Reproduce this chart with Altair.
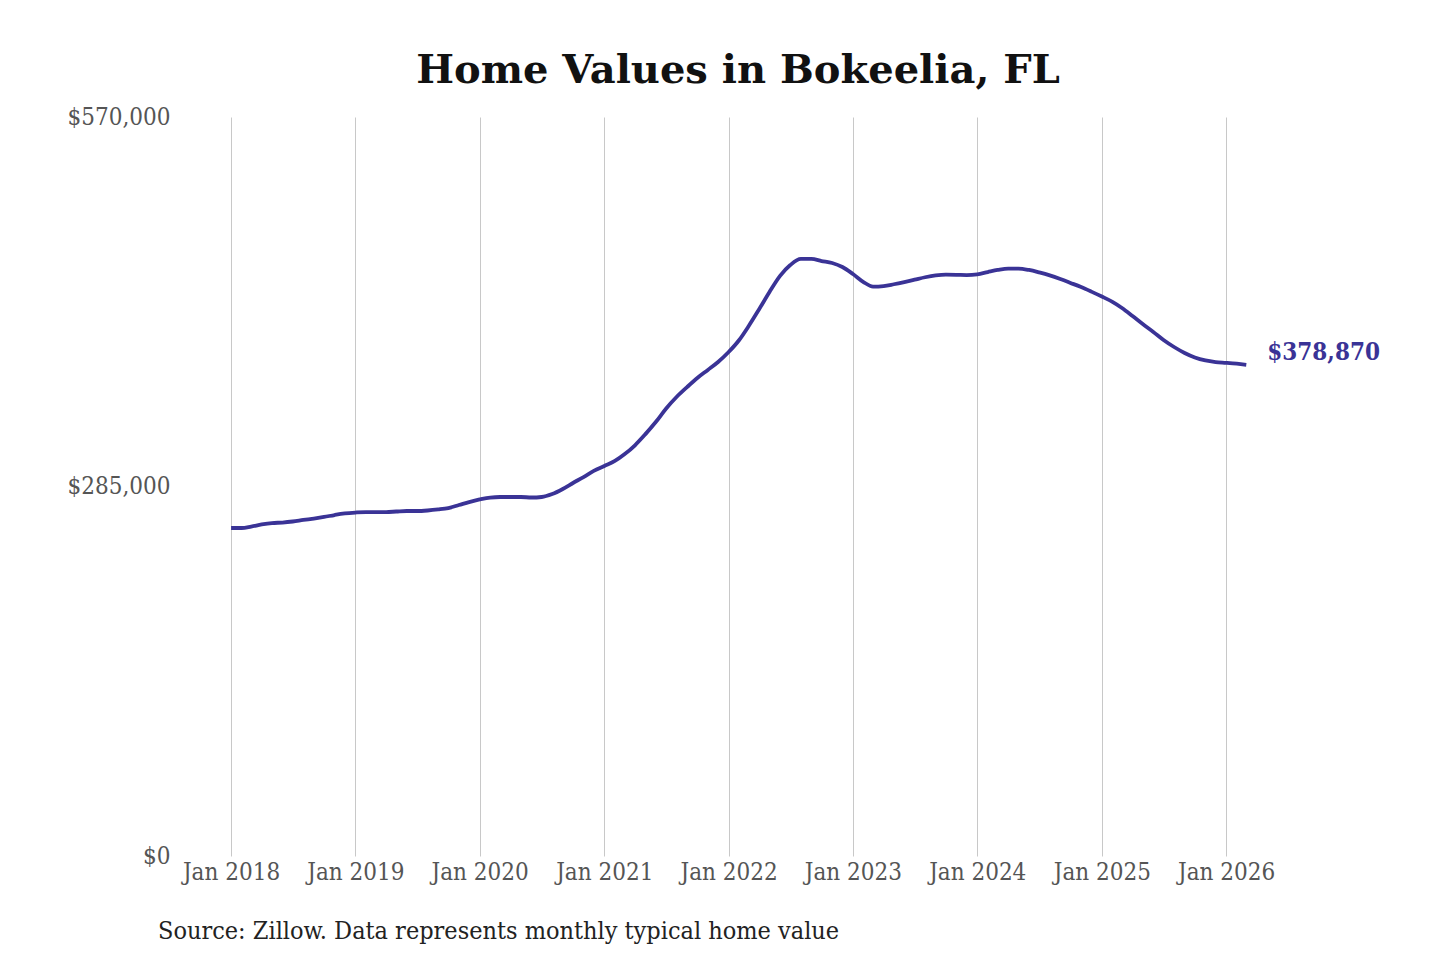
import altair as alt
import pandas as pd

# Monthly typical home value, Jan 2018 .. Mar 2026
values = [
    253000, 253000, 254100, 255700, 256800, 257200, 258000, 259200, 260300, 261500, 263000, 264200,
    264900, 265300, 265300, 265300, 265700, 266100, 266100, 266500, 267300, 268400, 270700, 273000,
    275000, 276500, 276900, 276900, 276900, 276500, 276900, 279200, 283100, 287700, 292300, 297000,
    300800, 304700, 309800, 316800, 325200, 334700, 345000, 354000, 361700, 368700, 374900, 381000,
    388700, 398000, 408800, 421900, 435000, 447400, 455800, 460500, 460500, 458900, 457400, 454300,
    448900, 442700, 439200, 439600, 441000, 442700, 444500, 446400, 447800, 448400, 448300, 448100,
    448600, 450400, 452000, 453100, 453100, 452000, 450100, 447800, 445000, 442000, 438800, 435300,
    431500, 427400, 422700, 416500, 410300, 404200, 398000, 392600, 388000, 384500, 382200, 381000,
    380400, 379700, 378870,
]
dates = pd.date_range("2018-01-01", periods=len(values), freq="MS").strftime("%Y-%m-%d").tolist()

tick_years = [2018, 2019, 2020, 2021, 2022, 2023, 2024, 2025, 2026]
y_ticks = [0, 285000, 570000]
title_text = "Home Values in Bokeelia, FL"
source_text = "Source: Zillow. Data represents monthly typical home value"
last_label = "$378,870"

df = pd.DataFrame({"date": dates, "value": values})
last_df = pd.DataFrame({"date": [dates[-1]], "value": [values[-1]], "label": [last_label]})
src_df = pd.DataFrame({"t": [source_text]})

W, H = 1116, 739
SERIF = "DejaVu Serif Condensed, DejaVu Serif, serif"
LINE_COLOR = "#3a3396"

x_scale = alt.Scale(
    type="utc",
    domain=[alt.DateTime(year=2017, month=8, date=4, utc=True),
            alt.DateTime(year=2026, month=7, date=25, utc=True)],
)
y_scale = alt.Scale(domain=[0, 570000], nice=False, zero=True)

x_axis = alt.Axis(
    values=[alt.DateTime(year=y, month=1, date=1, utc=True) for y in tick_years],
    format="%b %Y",
    title=None,
    grid=True,
    gridColor="#c8c8c8",
    gridWidth=1,
    ticks=False,
    domain=False,
    labelFont=SERIF,
    labelFontSize=24,
    labelColor="#555555",
    labelPadding=4,
    labelFlush=False,
)
y_axis = alt.Axis(
    values=y_ticks,
    format="$,d",
    title=None,
    grid=False,
    ticks=False,
    domain=False,
    labelFont=SERIF,
    labelFontSize=24,
    labelColor="#555555",
    labelPadding=10,
    labelFlush=False,
)

line = alt.Chart(df).mark_line(
    color=LINE_COLOR, strokeWidth=3.8, interpolate="monotone"
).encode(
    x=alt.X("date:T", scale=x_scale, axis=x_axis),
    y=alt.Y("value:Q", scale=y_scale, axis=y_axis),
)

label = alt.Chart(last_df).mark_text(
    align="left", baseline="middle", dx=21, dy=-12,
    font=SERIF, fontSize=24, fontWeight="bold", color=LINE_COLOR,
).encode(
    x=alt.X("date:T", scale=x_scale),
    y=alt.Y("value:Q", scale=y_scale),
    text="label:N",
)

source = alt.Chart(src_df).mark_text(
    align="left", baseline="middle",
    font=SERIF, fontSize=25, color="#222222",
).encode(
    x=alt.value(-22),
    y=alt.value(H + 75),
    text="t:N",
)

chart = alt.layer(line, label, source).properties(
    width=W,
    height=H,
    background="white",
    title=alt.TitleParams(
        text=title_text,
        font="DejaVu Serif",
        fontSize=40,
        fontWeight="bold",
        color="#111111",
        anchor="middle",
        offset=14,
    ),
    autosize=alt.AutoSizeParams(type="none"),
    padding={"left": 172, "top": 109, "right": 136, "bottom": 96},
).configure_view(stroke=None)

chart.save("out.html", embed_options={"renderer": "svg", "actions": False})
